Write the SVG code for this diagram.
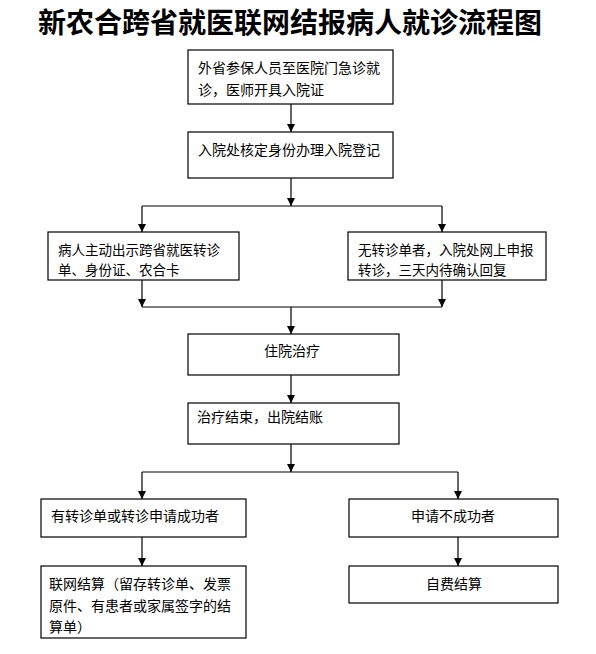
<svg xmlns="http://www.w3.org/2000/svg" width="596" height="654" viewBox="0 0 596 654">
<style>
.box{fill:#fff;stroke:#000;stroke-width:1.2}
.t{font-family:"Noto Sans CJK SC","Noto Sans",sans-serif;font-size:14px;fill:#000}
.s{font-size:13.5px}
.c{text-anchor:middle}
.ln{fill:none;stroke:#000;stroke-width:1.2}
.title{font-family:"Noto Sans CJK SC",sans-serif;font-size:28px;font-weight:bold;fill:#000;text-anchor:middle}
</style>
<defs>
<marker id="ah" markerUnits="userSpaceOnUse" markerWidth="8" markerHeight="8" refX="8" refY="4" orient="auto">
<path d="M0,0 L8,4 L0,8 z" fill="#000"/>
</marker>
</defs>
<rect width="596" height="654" fill="#fff"/>
<text class="title" x="290" y="33">新农合跨省就医联网结报病人就诊流程图</text>
<g id="connectors">
<line class="ln" x1="291" y1="104" x2="291" y2="132" marker-end="url(#ah)"/>
<line class="ln" x1="291" y1="178" x2="291" y2="206" marker-end="url(#ah)"/>
<line class="ln" x1="142" y1="206" x2="442" y2="206"/>
<line class="ln" x1="142" y1="206" x2="142" y2="232" marker-end="url(#ah)"/>
<line class="ln" x1="442" y1="206" x2="442" y2="232" marker-end="url(#ah)"/>
<line class="ln" x1="142" y1="280" x2="142" y2="307" marker-end="url(#ah)"/>
<line class="ln" x1="442" y1="280" x2="442" y2="307" marker-end="url(#ah)"/>
<line class="ln" x1="142" y1="307" x2="442" y2="307"/>
<line class="ln" x1="291" y1="307" x2="291" y2="334" marker-end="url(#ah)"/>
<line class="ln" x1="291" y1="375" x2="291" y2="403" marker-end="url(#ah)"/>
<line class="ln" x1="291" y1="444" x2="291" y2="472" marker-end="url(#ah)"/>
<line class="ln" x1="142" y1="472" x2="458" y2="472"/>
<line class="ln" x1="142" y1="472" x2="142" y2="499" marker-end="url(#ah)"/>
<line class="ln" x1="458" y1="472" x2="458" y2="499" marker-end="url(#ah)"/>
<line class="ln" x1="142" y1="537" x2="142" y2="566" marker-end="url(#ah)"/>
<line class="ln" x1="458" y1="537" x2="458" y2="566" marker-end="url(#ah)"/>
</g>
<g id="n1">
<rect class="box" x="188" y="50" width="205" height="54"/>
<text class="t" x="198" y="73">外省参保人员至医院门急诊就</text>
<text class="t" x="198" y="95">诊，医师开具入院证</text>
</g>
<g id="n2">
<rect class="box" x="188" y="132" width="205" height="46"/>
<text class="t" x="198" y="155">入院处核定身份办理入院登记</text>
</g>
<g id="n3">
<rect class="box" x="48" y="232" width="191" height="48"/>
<text class="t s" x="58" y="255">病人主动出示跨省就医转诊</text>
<text class="t s" x="58" y="275">单、身份证、农合卡</text>
</g>
<g id="n4">
<rect class="box" x="348" y="232" width="198" height="48"/>
<text class="t s" x="358" y="255">无转诊单者，入院处网上申报</text>
<text class="t s" x="358" y="275">转诊，三天内待确认回复</text>
</g>
<g id="n5">
<rect class="box" x="188" y="334" width="211" height="41"/>
<text class="t c" x="292" y="356">住院治疗</text>
</g>
<g id="n6">
<rect class="box" x="188" y="403" width="211" height="41"/>
<text class="t" x="197" y="422">治疗结束，出院结账</text>
</g>
<g id="n7">
<rect class="box" x="41" y="499" width="205" height="38"/>
<text class="t" x="51" y="521">有转诊单或转诊申请成功者</text>
</g>
<g id="n8">
<rect class="box" x="349" y="499" width="209" height="38"/>
<text class="t c" x="453" y="521">申请不成功者</text>
</g>
<g id="n9">
<rect class="box" x="41" y="566" width="205" height="72"/>
<text class="t" x="49" y="589">联网结算（留存转诊单、发票</text>
<text class="t" x="49" y="611">原件、有患者或家属签字的结</text>
<text class="t" x="49" y="632">算单）</text>
</g>
<g id="n10">
<rect class="box" x="349" y="566" width="209" height="37"/>
<text class="t c" x="454" y="589">自费结算</text>
</g>
</svg>
